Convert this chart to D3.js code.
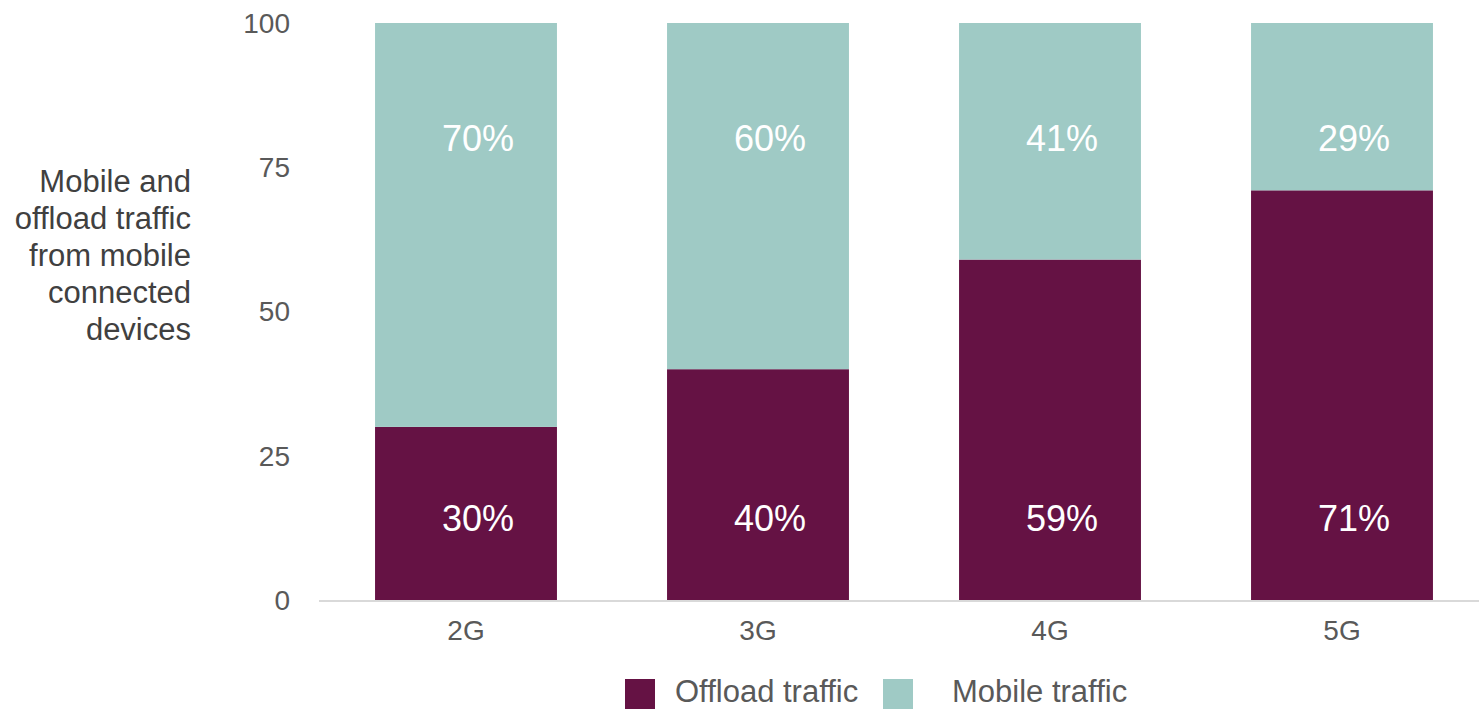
<!DOCTYPE html>
<html><head><meta charset="utf-8">
<script src="https://cdn.jsdelivr.net/npm/d3@7"></script>
<style>body{margin:0;background:#fff;}svg{display:block;font-family:"Liberation Sans",Arial,sans-serif;}</style>
</head><body>
<svg id="c" width="1479" height="709"></svg>
<script>
const categories = ["2G","3G","4G","5G"];
const offload = [30,40,59,71];
const mobile = [70,60,41,29];
const yTicks = [0,25,50,75,100];
const seriesNames = ["Offload traffic","Mobile traffic"];
const colors = ["#651244","#9fcac5"];
const titleLines = ["Mobile and","offload traffic","from mobile","connected","devices"];

const svg = d3.select("#c");
const x = d3.scaleBand().domain(categories).range([320,1488]).paddingInner(0.377).paddingOuter(0.1885);
const y = d3.scaleLinear().domain([0,100]).range([600,23]);

const data = categories.map((c,i)=>({cat:c, offload:offload[i], mobile:mobile[i]}));
const stack = d3.stack().keys(["offload","mobile"])(data);

svg.append("g").selectAll("g").data(stack).join("g")
  .attr("fill",(d,i)=>colors[i])
  .selectAll("rect").data(d=>d).join("rect")
  .attr("x",d=>x(d.data.cat)).attr("width",x.bandwidth())
  .attr("y",d=>y(d[1])).attr("height",d=>y(d[0])-y(d[1]));

// axis line
svg.append("line").attr("x1",319).attr("x2",1479).attr("y1",y(0)+1).attr("y2",y(0)+1)
  .attr("stroke","#d9d9d9").attr("stroke-width",2);

// y ticks
svg.append("g").selectAll("text").data(yTicks).join("text")
  .attr("x",290).attr("y",d=>y(d)).attr("dy","0.35em").attr("text-anchor","end")
  .attr("font-size",28).attr("fill","#595959").text(d=>d);

// x labels
svg.append("g").selectAll("text").data(categories).join("text")
  .attr("x",d=>x(d)+x.bandwidth()/2).attr("y",630).attr("dy","0.35em").attr("text-anchor","middle")
  .attr("font-size",28).attr("fill","#595959").text(d=>d);

// value labels
const lbl = svg.append("g").attr("fill","#fff").attr("font-size",36).attr("text-anchor","middle");
lbl.selectAll("text.top").data(data).join("text").attr("class","top")
  .attr("x",d=>x(d.cat)+x.bandwidth()/2+12).attr("y",y(80)).attr("dy","0.35em").text(d=>d.mobile+"%");
lbl.selectAll("text.bot").data(data).join("text").attr("class","bot")
  .attr("x",d=>x(d.cat)+x.bandwidth()/2+12).attr("y",y(14.2)).attr("dy","0.35em").text(d=>d.offload+"%");

// y title
svg.append("g").selectAll("text").data(titleLines).join("text")
  .attr("x",191).attr("y",(d,i)=>181+i*37).attr("dy","0.35em").attr("text-anchor","end")
  .attr("font-size",31).attr("fill","#404040").text(d=>d);

// legend
const leg = svg.append("g");
const legX = [625,883];
const legTX = [675,952];
seriesNames.forEach((n,i)=>{
  leg.append("rect").attr("x",legX[i]).attr("y",679).attr("width",30).attr("height",30).attr("fill",colors[i]);
  leg.append("text").attr("x",legTX[i]).attr("y",702).attr("font-size",31).attr("fill","#595959").text(n);
});
</script>
</body></html>
